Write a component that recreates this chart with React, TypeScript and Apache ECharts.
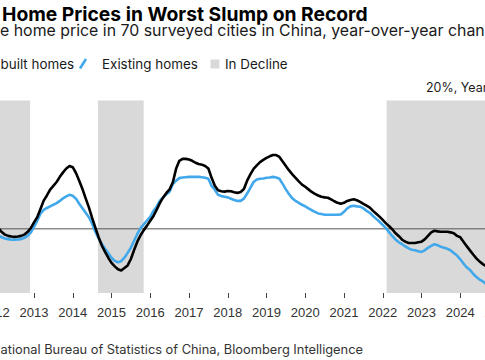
import React, { useEffect, useRef } from "react";
import * as echarts from "echarts";

// ---- data (monthly, starting Jan 2011) ----
const START_YEAR = 2011;

const newBuilt: number[] = [
  // 2011
  4.6, 4.6, 4.5, 4.3, 4.0, 3.6, 3.2, 2.7, 2.2, 1.7, 1.2, 0.8,
  // 2012
  0.5, 0.1, -0.5, -0.9, -1.1, -1.2, -1.25, -1.2, -1.1, -0.9, -0.5, 0.1,
  // 2013
  1.0, 1.8, 3.1, 4.4, 5.2, 6.1, 6.7, 7.3, 8.1, 8.8, 9.4, 9.8,
  // 2014
  9.6, 8.7, 7.5, 6.2, 4.75, 3.35, 1.7, 0.2, -1.3, -2.6, -3.6, -4.5,
  // 2015
  -5.3, -5.85, -6.3, -6.5, -6.1, -5.7, -4.7, -3.3, -2.0, -1.0, -0.2, 0.5,
  // 2016
  1.25, 2.0, 3.0, 4.05, 4.9, 5.6, 6.15, 7.25, 9.35, 10.6, 10.9, 10.9,
  // 2017
  10.8, 10.6, 10.3, 10.1, 10.0, 9.8, 9.4, 7.95, 6.7, 6.0, 5.85, 5.8,
  // 2018
  5.9, 5.85, 5.7, 5.6, 5.75, 6.2, 7.5, 8.5, 9.35, 9.9, 10.4, 10.75,
  // 2019
  11.05, 11.3, 11.5, 11.5, 11.2, 10.5, 9.8, 9.1, 8.5, 7.95, 7.4, 6.9,
  // 2020
  6.55, 6.15, 5.75, 5.45, 5.2, 5.0, 4.9, 4.85, 4.6, 4.3, 4.05, 3.9,
  // 2021
  4.05, 4.35, 4.5, 4.6, 4.45, 4.2, 3.9, 3.6, 3.3, 2.8, 2.35, 1.9,
  // 2022
  1.4, 0.85, 0.4, -0.1, -0.7, -1.15, -1.7, -2.0, -2.2, -2.2, -2.2, -2.1,
  // 2023
  -2.0, -1.65, -1.1, -0.55, -0.3, -0.4, -0.45, -0.45, -0.45, -0.55, -0.7, -1.1,
  // 2024
  -1.3, -2.0, -2.7, -3.35, -4.0, -4.6, -5.1, -5.5, -5.8, -6.1,
];

const existing: number[] = [
  // 2011
  3.2, 3.3, 3.2, 3.0, 2.7, 2.3, 1.9, 1.4, 0.9, 0.4, 0.0, -0.4,
  // 2012
  -0.8, -1.1, -1.3, -1.5, -1.6, -1.7, -1.7, -1.65, -1.6, -1.4, -1.1, -0.6,
  // 2013
  0.3, 1.25, 2.35, 2.95, 3.25, 3.5, 3.75, 4.0, 4.35, 4.75, 5.05, 5.3,
  // 2014
  5.15, 4.7, 3.9, 3.2, 2.5, 1.8, 0.8, -0.45, -1.5, -2.35, -3.1, -3.8,
  // 2015
  -4.5, -5.0, -5.2, -5.05, -4.5, -3.75, -2.95, -1.85, -0.8, 0.1, 0.7, 1.3,
  // 2016
  1.85, 2.8, 3.45, 4.4, 4.9, 5.4, 5.8, 7.0, 7.5, 7.9, 8.0, 8.05,
  // 2017
  8.1, 8.1, 8.1, 8.1, 8.05, 7.95, 7.8, 6.7, 6.1, 5.3, 5.1, 5.0,
  // 2018
  4.9, 4.7, 4.5, 4.35, 4.35, 4.7, 5.5, 6.4, 7.3, 7.7, 7.8, 7.85,
  // 2019
  7.95, 8.0, 8.1, 8.0, 7.8, 7.0, 6.15, 5.4, 4.75, 4.35, 4.05, 3.75,
  // 2020
  3.5, 3.2, 2.9, 2.65, 2.4, 2.3, 2.2, 2.2, 2.2, 2.2, 2.2, 2.25,
  // 2021
  2.65, 3.2, 3.5, 3.6, 3.5, 3.45, 3.2, 2.8, 2.5, 2.0, 1.55, 1.1,
  // 2022
  0.6, 0.1, -0.55, -1.15, -1.7, -2.1, -2.4, -2.75, -3.05, -3.25, -3.35, -3.5,
  // 2023
  -3.6, -3.35, -2.95, -2.65, -2.4, -2.55, -2.8, -2.95, -3.1, -3.35, -3.75, -4.15,
  // 2024
  -4.75, -5.4, -6.0, -6.4, -7.0, -7.5, -7.9, -8.2, -8.6, -8.9,
];

// decline periods, in decimal years
const declinePeriods: [number, number][] = [
  [2011.9, 2012.9],
  [2014.65, 2015.83],
  [2022.1, 2025.0],
];

const X_MIN = 2010;
const X_MAX = 2026;
const Y_MIN = -10;
const Y_MAX = 20;
const Y_STEP = 10;

const seriesNames = ["Newly built homes", "Existing homes"];
const bandLabel = "In Decline";
const titleText = "China Home Prices in Worst Slump on Record";
const subtitleText =
  "Average home price in 70 surveyed cities in China, year-over-year change";
const sourceText =
  "Source: National Bureau of Statistics of China, Bloomberg Intelligence";
const axisNote = "20%, Year-over-year";

// ---- layout ----
const OFF = 140; // inner chart shifted left by this many px
const W = 720;
const H = 360;
const PX_PER_YEAR = 38.75;
const X2013 = 34; // canvas x of Jan 2013
const GRID_LEFT = OFF + X2013 - (2013 - X_MIN) * PX_PER_YEAR;
const GRID_RIGHT_EDGE = OFF + X2013 + (X_MAX - 2013) * PX_PER_YEAR;

const BLUE = "#41a8ec";
const BAND = "#d9d9d9";
const FAMILY = "Inter";

export default function App() {
  const ref = useRef<HTMLDivElement>(null);

  useEffect(() => {
    const el = ref.current!;
    const chart = echarts.init(el, undefined, { renderer: "svg" });

    const ctx = document.createElement("canvas").getContext("2d")!;
    const measure = (t: string, size: number, weight = "normal", fam = FAMILY) => {
      ctx.font = `${weight} ${size}px ${fam}`;
      return ctx.measureText(t).width;
    };
    const fit = (visible: string, target: number, weight = "normal") =>
      (20 * target) / measure(visible, 20, weight);

    const titleSize = fit("Home Prices in Worst Slump on Record", 366, "bold");
    const subSize = fit("e home price in 70 surveyed cities in China, year-over-year chan", 485);
    const legSize = fit("Existing homes", 96);
    const srcSize = fit("ational Bureau of Statistics of China, Bloomberg Intelligence", 363);
    const noteSize = fit("20%, Yea", 56.7);

    const titleX = OFF + 2 - measure("China ", titleSize, "bold");
    const subX = OFF + 0 - measure("Averag", subSize);
    const newlyX = OFF + 0.5 - measure("Newly ", legSize);
    const srcX = OFF + 0.5 - measure("Source: N", srcSize);

    const txt = (
      text: string,
      x: number,
      y: number,
      size: number,
      fill: string,
      weight = "normal"
    ) => ({
      type: "text",
      x,
      y,
      silent: true,
      style: {
        text,
        fill,
        fontSize: size,
        fontFamily: FAMILY,
        fontWeight: weight,
        align: "left",
        verticalAlign: "middle",
        textAlign: "left",
        textVerticalAlign: "middle",
      },
    });

    const toPoints = (vals: number[]) =>
      vals.map((v, i) => [START_YEAR + i / 12, v]);

    const option: any = {
      animation: false,
      backgroundColor: "#fff",
      grid: {
        left: GRID_LEFT,
        right: W - GRID_RIGHT_EDGE,
        top: 100.5,
        bottom: 67,
        containLabel: false,
      },
      xAxis: {
        type: "value",
        min: X_MIN,
        max: X_MAX,
        interval: 1,
        axisLine: { show: false, onZero: false },
        axisTick: { show: true, length: 5, lineStyle: { color: "#444", width: 1 } },
        splitLine: { show: false },
        axisLabel: {
          formatter: (v: number) => String(v),
          color: "#333",
          fontSize: 13,
          fontFamily: "Liberation Sans",
          margin: 13,
        },
      },
      yAxis: {
        type: "value",
        min: Y_MIN,
        max: Y_MAX,
        interval: Y_STEP,
        show: false,
        splitLine: { show: false },
      },
      series: [
        {
          name: bandLabel,
          type: "line",
          data: [[X_MIN, 0]],
          symbol: "none",
          lineStyle: { opacity: 0 },
          silent: true,
          z: 1,
          markArea: {
            silent: true,
            itemStyle: { color: BAND },
            data: declinePeriods.map(([a, b]) => [{ xAxis: a }, { xAxis: b }]),
          },
        },
        {
          name: "zero",
          type: "line",
          data: [
            [X_MIN, 0],
            [X_MAX, 0],
          ],
          symbol: "none",
          silent: true,
          lineStyle: { color: "#555", width: 1 },
          z: 2,
        },
        {
          name: seriesNames[1],
          type: "line",
          data: toPoints(existing),
          symbol: "none",
          silent: true,
          lineStyle: { color: BLUE, width: 2.6, cap: "round", join: "round" },
          z: 3,
        },
        {
          name: seriesNames[0],
          type: "line",
          data: toPoints(newBuilt),
          symbol: "none",
          silent: true,
          lineStyle: { color: "#000", width: 2.6, cap: "round", join: "round" },
          z: 4,
        },
      ],
      graphic: [
        txt(titleText, titleX, 13.5, titleSize, "#000", "bold"),
        txt(subtitleText, subX, 30.5, subSize, "#1a1a1a"),
        {
          type: "line",
          silent: true,
          shape: { x1: newlyX - 22, y1: 68.5, x2: newlyX - 16, y2: 59 },
          style: { stroke: "#000", lineWidth: 2.6 },
        },
        txt(seriesNames[0], newlyX, 63.8, legSize, "#1a1a1a"),
        {
          type: "line",
          silent: true,
          shape: { x1: OFF + 80, y1: 68.5, x2: OFF + 86, y2: 59 },
          style: { stroke: BLUE, lineWidth: 2.6 },
        },
        txt(seriesNames[1], OFF + 102, 63.8, legSize, "#1a1a1a"),
        {
          type: "rect",
          silent: true,
          shape: { x: OFF + 210.5, y: 59.5, width: 9, height: 9 },
          style: { fill: BAND },
        },
        txt(bandLabel, OFF + 225, 63.8, legSize, "#1a1a1a"),
        txt(axisNote, OFF + 426, 87.8, noteSize, "#1a1a1a"),
        txt(sourceText, srcX, 349.9, srcSize, "#333"),
      ],
    };

    chart.setOption(option);
    return () => chart.dispose();
  }, []);

  return (
    <div
      style={{
        position: "fixed",
        left: 0,
        top: 0,
        width: 485,
        height: H,
        overflow: "hidden",
        background: "#fff",
      }}
    >
      <div
        ref={ref}
        style={{ position: "absolute", left: -OFF, top: 0, width: W, height: H }}
      />
    </div>
  );
}
